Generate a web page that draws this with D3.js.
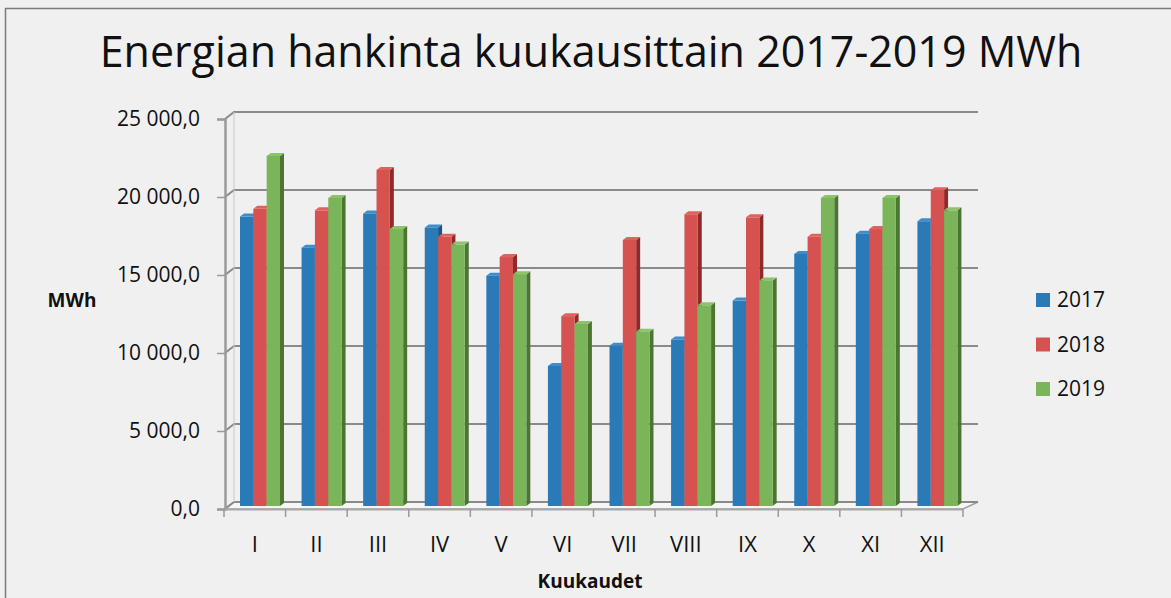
<!DOCTYPE html>
<html>
<head>
<meta charset="utf-8">
<script src="https://cdn.jsdelivr.net/npm/d3@7"></script>
<style>
  html, body { margin: 0; padding: 0; background: #f0f0f0; }
  svg { display: block; font-family: 'Open Sans', sans-serif; }
</style>
</head>
<body>
<svg id="chart" width="1171" height="598"></svg>
<script>
/* global d3: false */
/* eslint-env browser */

const months = ['I', 'II', 'III', 'IV', 'V', 'VI', 'VII', 'VIII', 'IX', 'X', 'XI', 'XII'];
const years = ['2017', '2018', '2019'];
const values2017 = [18600, 16600, 18800, 17900, 14800, 9000, 10300, 10700, 13200, 16200, 17500, 18300];
const values2018 = [19100, 19000, 21600, 17300, 16000, 12200, 17100, 18750, 18550, 17300, 17800, 20300];
const values2019 = [22500, 19800, 17800, 16800, 14900, 11700, 11200, 12900, 14500, 19800, 19800, 19000];
const yTicks = [0, 5000, 10000, 15000, 20000, 25000];

const series = [values2017, values2018, values2019];
const colors = ['#2a7ab8', '#d65250', '#7ab55a'];
const sideColors = ['#1b5485', '#8e2b29', '#4a7632'];
const topColors = ['#3f8dca', '#e0615e', '#8cc46b'];

const svg = d3.select('#chart');

// depth offset of the back wall relative to the front edge
const depthX = 10;
const depthY = -7;

const x = d3.scaleBand().domain(months).range([224, 963]);
const xInner = d3.scaleBand().domain(years).range([16, 56]);
const y = d3.scaleLinear().domain([0, 25000]).range([509, 119]);
// bars stand a little behind the front edge
const yBar = d3.scaleLinear().domain([0, 25000]).range([506, 117]);

function fmt(v) {
  return `${d3.format(',.1f')(v).replace(/,/g, ' ').replace('.', ',')}`;
}

function drawFrame() {
  svg.append('rect')
    .attr('x', 5.5).attr('y', 8.5)
    .attr('width', 1200).attr('height', 700)
    .attr('fill', '#f0f0f0')
    .attr('stroke', '#7a7a7a')
    .attr('stroke-width', 1.5);
}

function drawTitle() {
  const t = svg.append('text')
    .attr('x', 591)
    .attr('y', 67)
    .attr('text-anchor', 'middle')
    .attr('font-size', 44)
    .attr('fill', '#111')
    .text('Energian hankinta kuukausittain 2017-2019 MWh');
  const w = t.node().getComputedTextLength();
  t.attr('font-size', 44 * (983 / w));
}

function drawWalls() {
  const g = svg.append('g');
  const x0 = x.range()[0];
  const x1 = x.range()[1];

  // floor
  g.append('path')
    .attr('d', `M${x0},${y(0)}L${x0 + depthX},${y(0) + depthY}L${x1 + depthX + 5},${y(0) + depthY}L${x1},${y(0)}Z`)
    .attr('fill', '#f6f6f6')
    .attr('stroke', '#a0a0a0')
    .attr('stroke-width', 1.5);

  // back wall gridlines and left wall diagonals
  g.selectAll('.grid')
    .data(yTicks)
    .enter()
    .append('path')
    .attr('class', 'grid')
    .attr('d', d => `M${x0 + 1},${y(d)}L${x0 + depthX},${y(d) + depthY}L${x1 + depthX + 5},${y(d) + depthY}`)
    .attr('fill', 'none')
    .attr('stroke', '#8a8a8a')
    .attr('stroke-width', 2);

  // back wall left edge
  g.append('line')
    .attr('x1', x0 + depthX).attr('x2', x0 + depthX)
    .attr('y1', y(25000) + depthY).attr('y2', y(0) + depthY)
    .attr('stroke', '#c8c8c8')
    .attr('stroke-width', 1);
}

function drawBars() {
  const dx = 4;
  const dy = -3;
  const w = xInner.bandwidth();

  months.forEach((m, i) => {
    const g = svg.append('g').attr('transform', `translate(${x(m)},0)`);
    years.forEach((yr, s) => {
      const v = series[s][i];
      const bx = xInner(yr);
      const top = yBar(v);
      const base = yBar(0);

      g.append('path')
        .attr('d', `M${bx + w},${top}L${bx + w + dx},${top + dy}L${bx + w + dx},${base + dy}L${bx + w},${base}Z`)
        .attr('fill', sideColors[s]);
      g.append('path')
        .attr('d', `M${bx},${top}L${bx + dx},${top + dy}L${bx + w + dx},${top + dy}L${bx + w},${top}Z`)
        .attr('fill', topColors[s]);
      g.append('rect')
        .attr('x', bx)
        .attr('y', top)
        .attr('width', w)
        .attr('height', base - top)
        .attr('fill', colors[s]);
    });
  });
}

function drawAxes() {
  const yAxis = d3.axisLeft(y)
    .tickValues(yTicks)
    .tickSize(8)
    .tickPadding(17)
    .tickFormat(fmt);

  const gy = svg.append('g')
    .attr('transform', `translate(${x.range()[0] + 1},0)`)
    .call(yAxis);
  gy.select('.domain').attr('stroke', '#9a9a9a').attr('stroke-width', 2.5);
  gy.selectAll('.tick line').attr('stroke', '#9a9a9a').attr('stroke-width', 1.5);
  gy.selectAll('.tick text')
    .attr('font-family', "'Open Sans', sans-serif")
    .attr('font-size', 21)
    .attr('fill', '#111');

  const xAxis = d3.axisBottom(x)
    .tickSize(0)
    .tickPadding(27);
  const gx = svg.append('g')
    .attr('transform', `translate(0,${y(0)})`)
    .call(xAxis);
  gx.select('.domain').attr('stroke', '#a8a8a8').attr('stroke-width', 2);
  gx.selectAll('.tick text')
    .attr('font-family', "'Open Sans', sans-serif")
    .attr('font-size', 22)
    .attr('fill', '#111');

  // category boundary ticks
  gx.selectAll('.bound')
    .data(d3.range(months.length + 1))
    .enter()
    .append('line')
    .attr('class', 'bound')
    .attr('x1', i => x.range()[0] + i * x.step())
    .attr('x2', i => x.range()[0] + i * x.step())
    .attr('y1', 0)
    .attr('y2', 8)
    .attr('stroke', '#9a9a9a')
    .attr('stroke-width', 1.5);

  svg.append('text')
    .attr('x', 590)
    .attr('y', 588)
    .attr('text-anchor', 'middle')
    .attr('font-size', 19)
    .attr('font-weight', 'bold')
    .attr('fill', '#111')
    .text('Kuukaudet');

  svg.append('text')
    .attr('x', 72)
    .attr('y', 307)
    .attr('text-anchor', 'middle')
    .attr('font-size', 19)
    .attr('font-weight', 'bold')
    .attr('fill', '#111')
    .text('MWh');
}

function drawLegend() {
  const legend = svg.append('g')
    .selectAll('g')
    .data(years)
    .enter()
    .append('g')
    .attr('transform', (d, i) => `translate(1036,${293 + i * 44.5})`);

  legend.append('rect')
    .attr('width', 14)
    .attr('height', 14)
    .attr('fill', (d, i) => colors[i]);

  legend.append('text')
    .attr('x', 21)
    .attr('y', 14)
    .attr('font-size', 21)
    .attr('fill', '#111')
    .text(d => d);
}

drawFrame();
drawTitle();
drawWalls();
drawBars();
drawAxes();
drawLegend();
</script>
</body>
</html>
